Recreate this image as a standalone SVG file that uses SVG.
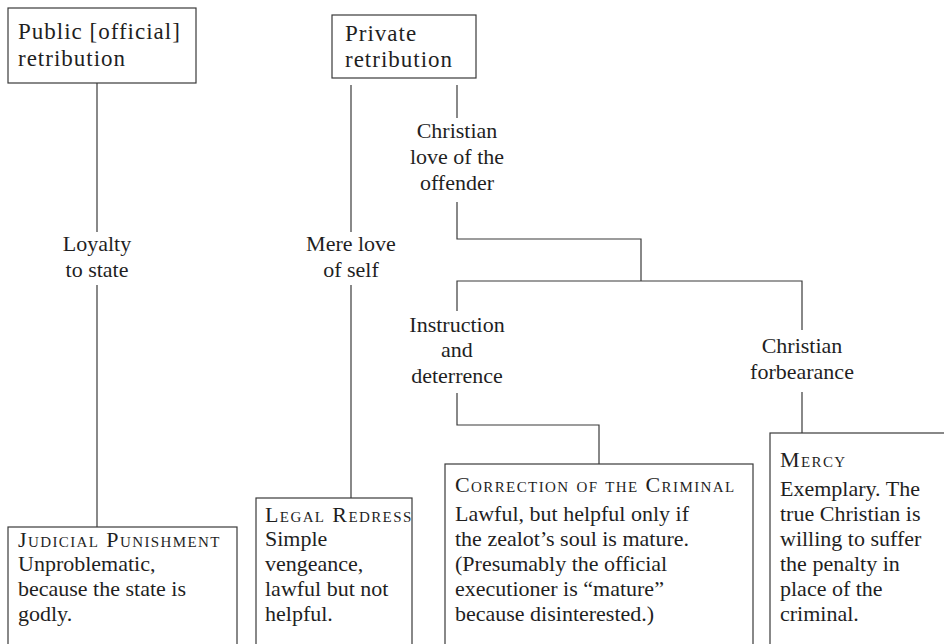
<svg xmlns="http://www.w3.org/2000/svg" width="944" height="644" viewBox="0 0 944 644">
<style>
  .bg { fill: #ffffff; }
  .box { fill: #ffffff; stroke: #3a3a3a; stroke-width: 1.2; }
  .ln { fill: none; stroke: #3a3a3a; stroke-width: 1.2; }
  .t { font-family: "Liberation Serif", "DejaVu Serif", serif; font-size: 22px; fill: #1f1f1f; }
  .title { font-size: 23px; letter-spacing: 1px; }
  .c { text-anchor: middle; }
  .hd { font-variant: small-caps; letter-spacing: 1.4px; }
</style>
<rect class="bg" x="0" y="0" width="944" height="644"/>

<g id="connectors">
  <path class="ln" d="M97 83 V232"/>
  <path class="ln" d="M97 285 V527"/>
  <path class="ln" d="M351 85 V232"/>
  <path class="ln" d="M351 285 V498"/>
  <path class="ln" d="M457 85 V118"/>
  <path class="ln" d="M457 202 V239 H641 V281"/>
  <path class="ln" d="M457 311 V281 H802 V330"/>
  <path class="ln" d="M457 393 V425 H599 V464"/>
  <path class="ln" d="M802 392 V433"/>
</g>

<g id="n-public">
  <rect class="box" x="8" y="8" width="188" height="75"/>
  <text class="t title" x="18" y="39">Public [official]</text>
  <text class="t title" x="18" y="66">retribution</text>
</g>

<g id="n-private">
  <rect class="box" x="332" y="15" width="144" height="63"/>
  <text class="t title" x="345" y="41">Private</text>
  <text class="t title" x="345" y="67">retribution</text>
</g>

<g id="n-loyalty">
  <text class="t c" x="97" y="251">Loyalty</text>
  <text class="t c" x="97" y="277">to state</text>
</g>

<g id="n-mere-love">
  <text class="t c" x="351" y="251">Mere love</text>
  <text class="t c" x="351" y="277">of self</text>
</g>

<g id="n-christian-love">
  <text class="t c" x="457" y="138">Christian</text>
  <text class="t c" x="457" y="164">love of the</text>
  <text class="t c" x="457" y="190">offender</text>
</g>

<g id="n-instruction">
  <text class="t c" x="457" y="332">Instruction</text>
  <text class="t c" x="457" y="357">and</text>
  <text class="t c" x="457" y="383">deterrence</text>
</g>

<g id="n-forbearance">
  <text class="t c" x="802" y="353">Christian</text>
  <text class="t c" x="802" y="379">forbearance</text>
</g>

<g id="n-judicial">
  <rect class="box" x="8" y="527" width="229" height="130"/>
  <text class="t hd" x="18" y="547">Judicial Punishment</text>
  <text class="t" x="18" y="571">Unproblematic,</text>
  <text class="t" x="18" y="596">because the state is</text>
  <text class="t" x="18" y="621">godly.</text>
</g>

<g id="n-legal">
  <rect class="box" x="256" y="498" width="156" height="160"/>
  <text class="t hd" x="265" y="522">Legal Redress</text>
  <text class="t" x="265" y="546">Simple</text>
  <text class="t" x="265" y="571">vengeance,</text>
  <text class="t" x="265" y="596">lawful but not</text>
  <text class="t" x="265" y="621">helpful.</text>
</g>

<g id="n-correction">
  <rect class="box" x="445" y="464" width="308" height="194"/>
  <text class="t hd" x="455" y="492">Correction of the Criminal</text>
  <text class="t" x="455" y="521">Lawful, but helpful only if</text>
  <text class="t" x="455" y="546">the zealot’s soul is mature.</text>
  <text class="t" x="455" y="571">(Presumably the official</text>
  <text class="t" x="455" y="596">executioner is “mature”</text>
  <text class="t" x="455" y="621">because disinterested.)</text>
</g>

<g id="n-mercy">
  <rect class="box" x="770" y="433" width="200" height="225"/>
  <text class="t hd" x="780" y="467">Mercy</text>
  <text class="t" x="780" y="496">Exemplary. The</text>
  <text class="t" x="780" y="521">true Christian is</text>
  <text class="t" x="780" y="546">willing to suffer</text>
  <text class="t" x="780" y="571">the penalty in</text>
  <text class="t" x="780" y="596">place of the</text>
  <text class="t" x="780" y="621">criminal.</text>
</g>
</svg>
